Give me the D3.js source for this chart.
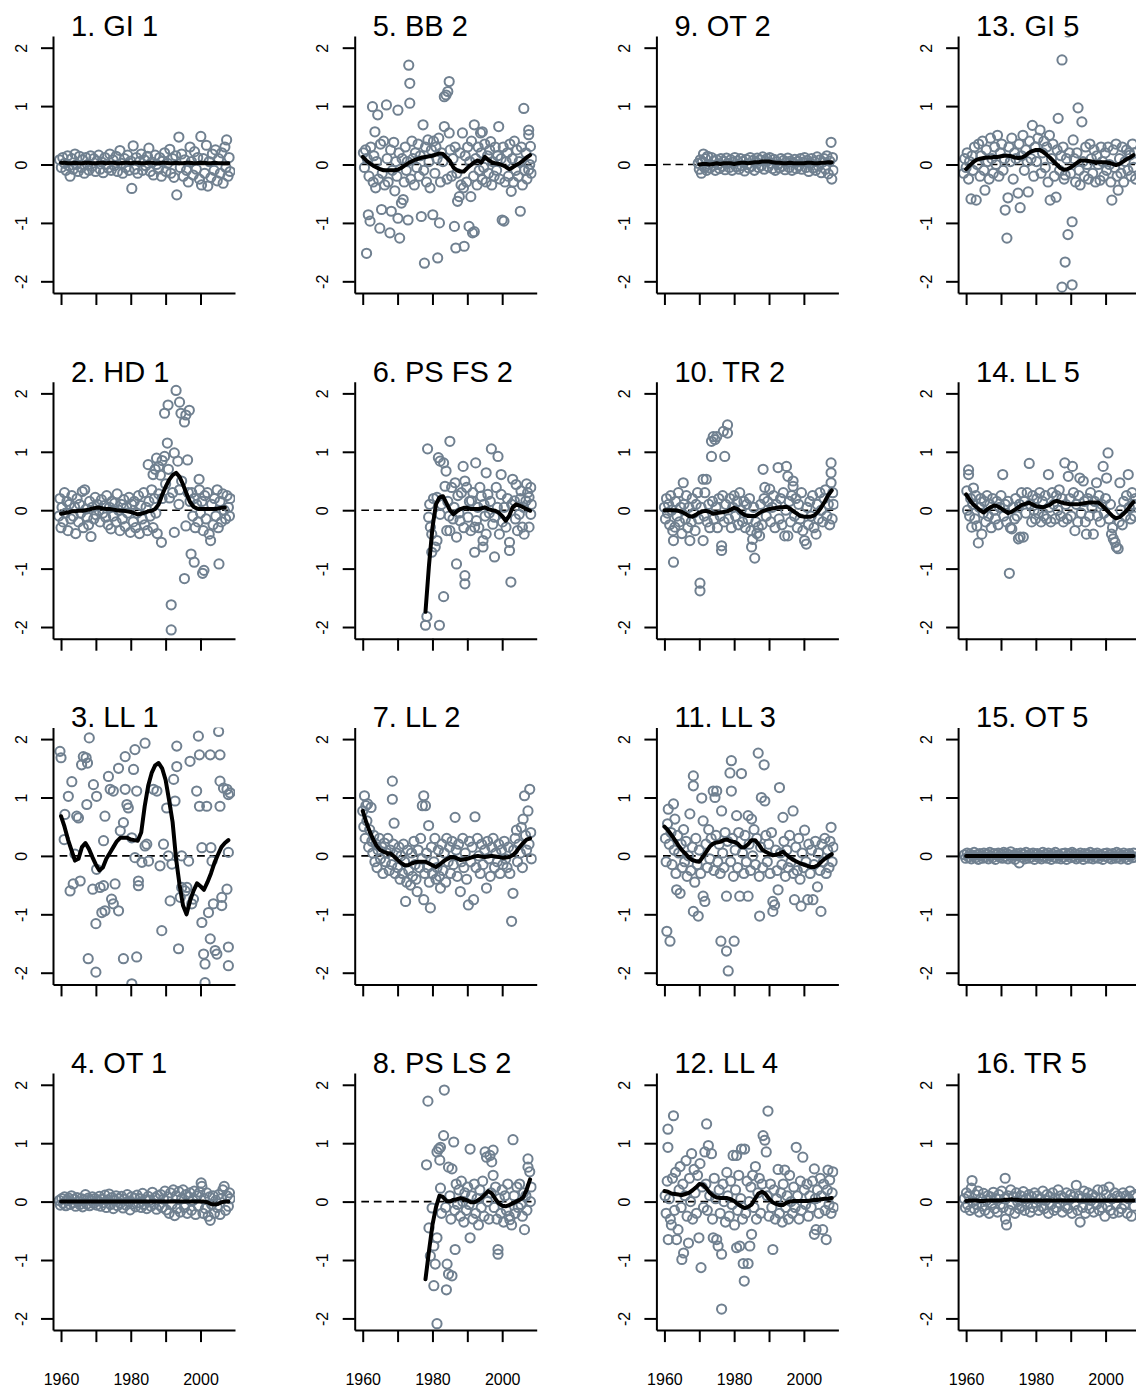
<!DOCTYPE html>
<html>
<head>
<meta charset="utf-8">
<script src="https://cdn.jsdelivr.net/npm/d3@7"></script>
<style>
  body { margin: 0; background: #fff; }
  svg { display: block; }
</style>
</head>
<body>
<svg id="chart" width="1136" height="1390"></svg>
<script>
// ---- Panel titles (panels are laid out column by column) ----
const titles = ["1. GI 1", "2. HD 1", "3. LL 1", "4. OT 1",
                "5. BB 2", "6. PS FS 2", "7. LL 2", "8. PS LS 2",
                "9. OT 2", "10. TR 2", "11. LL 3", "12. LL 4",
                "13. GI 5", "14. LL 5", "15. OT 5", "16. TR 5"];

const yTicks = [-2, -1, 0, 1, 2];
const xTicks = [1960, 1970, 1980, 1990, 2000];
const xTickLabels = [1960, 1980, 2000];

// ---- Observations: [year, anomaly] ----
const pts1 = [[1959.6,.08],[1960.1,-.05],[1960.5,.12],[1961,.02],[1961.4,-.1],[1961.9,.15],[1962.3,-.02],[1962.6,-.2],[1963.1,.1],[1963.5,-.08],[1964,.18],[1964.4,0],[1964.9,-.12],[1965.3,.14],[1965.8,-.05],[1966.2,.08],[1966.7,-.15],[1967.1,.12],[1967.6,0],[1968,-.1],[1968.5,.15],[1969,-.03],[1969.4,.1],[1969.9,-.12],[1970.3,.06],[1970.8,.16],[1971.2,-.08],[1971.7,.04],[1972.1,-.14],[1972.6,.12],[1973,0],[1973.5,-.06],[1974,.18],[1974.4,-.1],[1974.9,.08],[1975.3,-.02],[1975.8,.14],[1976.2,-.12],[1976.9,.24],[1977.3,.02],[1977.7,-.15],[1978.2,.1],[1978.6,-.05],[1979.1,.16],[1979.5,-.1],[1980,.06],[1980.3,-.41],[1980.7,.32],[1981.2,-.08],[1981.6,.12],[1982,-.15],[1982.5,.05],[1983,.18],[1983.4,-.1],[1983.9,.08],[1984.3,-.02],[1984.8,.14],[1985.2,.28],[1985.6,-.12],[1986.1,.04],[1986.5,-.18],[1987,.16],[1987.4,0],[1987.9,-.08],[1988.3,.12],[1988.8,-.2],[1989.2,.06],[1989.7,.2],[1990.1,-.12],[1990.6,.02],[1991.2,.26],[1991.5,-.15],[1992,.1],[1992.4,-.22],[1992.9,.15],[1993.2,-.52],[1993.8,.47],[1994.2,-.05],[1994.6,.18],[1995.1,-.2],[1995.5,.08],[1996,-.1],[1996.5,-.3],[1997,.3],[1997.4,.05],[1997.9,-.18],[1998.3,.22],[1998.8,-.08],[1999.2,.12],[1999.7,-.25],[2000.1,.48],[2000.3,-.35],[2000.8,.1],[2001.2,-.15],[2001.7,.33],[2002.1,-.37],[2002.5,.05],[2003,-.22],[2003.4,.18],[2003.9,-.1],[2004.3,.25],[2004.8,-.28],[2005.2,.1],[2005.7,-.15],[2006.1,.2],[2006.5,-.32],[2007,.3],[2007.3,-.05],[2007.5,.42],[2007.9,-.2],[2008.2,.12],[2008.5,-.12]];

const pts2 = [[1959.4,-.1],[1959.7,.2],[1960,-.3],[1960.3,.05],[1960.6,-.2],[1961,.3],[1961.3,-.05],[1961.7,.15],[1962,-.35],[1962.4,.1],[1962.8,-.15],[1963.1,.25],[1963.5,-.1],[1963.9,.05],[1964.2,-.4],[1964.6,.2],[1965,-.2],[1965.3,.1],[1965.7,-.05],[1966.1,.32],[1966.4,-.3],[1966.8,.35],[1967.2,.02],[1967.5,-.12],[1967.9,-.25],[1968.2,.15],[1968.6,-.45],[1969,.05],[1969.4,-.15],[1969.8,.22],[1970.1,-.08],[1970.5,.1],[1970.9,0],[1971.2,-.2],[1971.6,.18],[1972,-.05],[1972.4,.08],[1972.8,-.12],[1973.1,.25],[1973.5,-.25],[1973.9,.05],[1974.3,-.32],[1974.6,.15],[1975,-.1],[1975.4,.12],[1975.8,-.2],[1976.1,.28],[1976.5,0],[1976.9,-.35],[1977.3,.1],[1977.6,-.15],[1978,.18],[1978.4,-.28],[1978.8,.05],[1979.1,-.05],[1979.5,.22],[1979.9,-.38],[1980.3,.1],[1980.7,-.2],[1981,.15],[1981.4,-.3],[1981.8,-.05],[1982.2,.25],[1982.5,-.4],[1982.9,.08],[1983.3,-.15],[1983.7,.3],[1984,-.25],[1984.4,.05],[1984.8,-.35],[1985.2,.15],[1985.6,-.1],[1986,.35],[1986.4,-.3],[1986.8,.2],[1987.2,-.05],[1987.6,-.4],[1988,.28],[1985,.78],[1986.4,.61],[1987.4,.89],[1987,.7],[1988,.75],[1989,.85],[1988.8,-.55],[1989.7,.92],[1989.7,1.66],[1990.5,1.15],[1990.7,1.8],[1991.1,.21],[1991.6,-1.62],[1991.6,-2.05],[1992.5,.98],[1992.5,-.38],[1993,2.05],[1993.5,.84],[1994,1.85],[1994.4,1.66],[1995.4,1.51],[1995.8,1.63],[1995.8,-.27],[1995.4,-1.17],[1996.3,.86],[1996.8,1.71],[1997.3,-.75],[1998.2,-.89],[1999.6,.53],[1990,.45],[1992,.3],[1993.8,.1],[1994.6,.5],[1989,.2],[1988.5,.6],[1990.8,.7],[1996.5,.3],[1997,.15],[1994,.35],[1997.5,.3],[1997.8,-.1],[1998.2,.2],[1998.5,-.3],[1998.9,.1],[1999.3,-.2],[1999.7,.35],[2000,-.05],[2000.6,-1.08],[2001,-1.03],[2000.4,.15],[2000.8,-.35],[2001.2,.25],[2001.6,-.15],[2002,.3],[2002.5,-.41],[2002.9,-.52],[2003.2,.1],[2003.6,-.25],[2004,.2],[2004.4,-.1],[2004.8,.35],[2005.3,-.92],[2005.1,-.3],[2005.6,.15],[2006,-.2],[2006.4,.28],[2006.8,0],[2007.2,-.15],[2007.6,.25],[2008,.05],[2008.3,-.1],[2008.5,.2]];

const pts3 = [[1959.7,1.79],[1960,1.68],[1960.9,.28],[1961.1,.71],[1962.1,1.02],[1962.6,-.6],[1963.1,1.27],[1963.5,-.48],[1964,.03],[1964.5,.68],[1965,.65],[1965.5,-.43],[1965.9,1.56],[1966.4,1.7],[1967.2,1.68],[1967.4,.88],[1967.6,1.59],[1967.8,-1.76],[1968.1,2.02],[1969.1,-.57],[1969.3,1.22],[1970,-1.16],[1970,-1.99],[1970.2,1.02],[1970.2,-.23],[1971.2,-.54],[1971.7,-.97],[1972.2,-.51],[1972.2,.26],[1972.6,-.94],[1972.6,.68],[1973.6,1.36],[1974.1,1.14],[1974.5,-.74],[1975,1.11],[1975,-.82],[1975.5,-.48],[1976.5,1.5],[1976.5,-.94],[1977,.43],[1977.9,.57],[1977.9,-1.76],[1978.4,1.14],[1978.4,1.7],[1978.9,.88],[1979.3,.82],[1980.3,.31],[1980.3,-2.19],[1980.8,1.48],[1981.2,1.82],[1981.2,-.03],[1981.7,1.11],[1981.7,-1.73],[1982.2,-.43],[1982.2,-.51],[1983.2,-.11],[1984.1,.17],[1984.1,1.93],[1984.6,.2],[1985.1,-.09],[1986.5,1.14],[1987.5,1.11],[1988.4,-.17],[1988.9,-1.28],[1989.4,.2],[1990.3,.82],[1990.8,0],[1991.3,-.77],[1991.8,-.14],[1992.3,1.31],[1992.7,.94],[1993.2,1.88],[1993.2,1.53],[1993.7,-1.59],[1994.2,-.71],[1994.6,0],[1994.6,-.54],[1995.6,-.6],[1996.1,-.54],[1996.6,-.09],[1997,1.62],[1997.5,-.82],[1998,-.74],[1998.9,1.11],[1999.4,2.05],[1999.7,1.73],[1999.7,.85],[2000.4,.14],[2000.4,-1.14],[2000.9,-1.68],[2001.3,-1.85],[2001.3,-2.17],[2001.8,.85],[2002.3,-.97],[2002.8,-1.42],[2002.8,1.73],[2003,.14],[2003.3,-.09],[2003.7,-.82],[2004.2,-1.62],[2004.7,-1.68],[2005.2,2.13],[2005.6,1.73],[2005.6,.85],[2005.6,1.28],[2006.1,-.85],[2006.1,-.71],[2006.6,1.16],[2007.6,1.14],[2007.6,-.57],[2008,1.05],[2008,.06],[2008,-1.56],[2008,-1.88],[2008.5,1.08]];

const pts4 = [[1959.5,.02],[1959.8,-.06],[1960.2,.05],[1960.6,-.03],[1961,.08],[1961.4,-.07],[1961.8,.02],[1962.2,.06],[1962.6,-.05],[1963,.1],[1963.4,-.02],[1963.8,.04],[1964.2,-.08],[1964.6,.07],[1965,0],[1965.4,-.05],[1965.8,.05],[1966.2,-.09],[1966.6,.03],[1967,.12],[1967.4,-.04],[1967.8,.06],[1968.2,-.07],[1968.6,.02],[1969,.08],[1969.4,-.03],[1969.8,.05],[1970.2,-.06],[1970.6,.01],[1971,.09],[1971.4,-.08],[1971.8,.04],[1972.2,-.02],[1972.6,.11],[1973,-.1],[1973.4,.03],[1973.8,.13],[1974.2,-.05],[1974.6,.07],[1975,-.12],[1975.4,.02],[1975.8,.1],[1976.2,-.07],[1976.6,.05],[1977,-.03],[1977.4,.09],[1977.8,-.11],[1978.2,.04],[1978.6,-.06],[1979,.12],[1979.4,0],[1979.8,-.14],[1980.2,.08],[1980.6,-.04],[1981,.06],[1981.4,-.09],[1981.8,.11],[1982.2,-.02],[1982.6,.05],[1983,-.1],[1983.4,.14],[1983.8,-.05],[1984.2,.03],[1984.6,-.12],[1985,.09],[1985.4,.02],[1985.8,-.08],[1986.2,.16],[1986.6,-.04],[1987,.07],[1987.4,-.13],[1987.8,.1],[1988.2,-.06],[1988.6,.12],[1989,-.1],[1989.4,.04],[1989.8,.18],[1990.2,-.14],[1990.6,.08],[1991,-.2],[1991.4,.15],[1991.8,-.05],[1992.2,.2],[1992.6,-.24],[1993,.1],[1993.4,-.12],[1993.8,.17],[1994.2,-.18],[1994.6,.05],[1995,.2],[1995.4,-.1],[1995.8,.12],[1996.2,-.2],[1996.6,.08],[1997,.15],[1997.4,-.15],[1997.8,.02],[1998.2,.18],[1998.6,-.22],[1999,.1],[1999.4,-.08],[1999.8,.16],[2000.2,.32],[2000.4,.26],[2000.7,-.2],[2001,.05],[2001.4,-.12],[2001.8,.15],[2002.2,-.25],[2002.6,.08],[2002.8,-.32],[2003.2,-.05],[2003.6,.1],[2004,-.2],[2004.4,.02],[2004.8,-.1],[2005.2,.12],[2005.6,-.22],[2006,.05],[2006.4,.2],[2006.8,.26],[2007.2,-.15],[2007.6,.1],[2008,-.08],[2008.3,.15],[2008.5,.05]];

const pts5 = [[1960.2,.2],[1960.5,-.05],[1960.8,.25],[1961.1,-1.52],[1961.3,.1],[1961.6,-.86],[1961.8,-.2],[1962.1,-.97],[1962.3,.3],[1962.8,.99],[1963,-.3],[1963.2,.15],[1963.5,.56],[1963.7,-.4],[1964,.05],[1964.3,.85],[1964.5,-.25],[1964.9,-1.09],[1965.1,.35],[1965.4,-.77],[1965.6,-.15],[1966,.4],[1966.3,-.35],[1966.8,1.02],[1967,.1],[1967.3,-.3],[1967.8,-1.17],[1968,.25],[1968.2,-.8],[1968.5,-.1],[1968.9,.38],[1969.2,-.45],[1969.5,.05],[1969.8,-.2],[1970.1,.93],[1970.1,-.92],[1970.4,.2],[1970.6,-1.26],[1971.1,-.66],[1971.3,.1],[1971.6,-.6],[1971.9,-.3],[1972.2,.3],[1972.5,-.1],[1972.8,.05],[1973,-.95],[1973.2,1.7],[1973.5,1.39],[1973.5,1.05],[1973.8,-.25],[1974.1,.4],[1974.4,.1],[1974.8,-.35],[1975.1,.2],[1975.5,-.05],[1975.9,.35],[1976.2,-.2],[1976.5,.15],[1976.8,-.89],[1977.3,.68],[1977.5,-.1],[1977.7,-1.69],[1978,.3],[1978.3,-.3],[1978.7,.42],[1979,.05],[1979.3,-.4],[1979.7,.25],[1980.1,-.86],[1980.3,.4],[1980.7,-.15],[1981,.3],[1981.3,.1],[1981.5,-1.6],[1981.8,.45],[1982,-1],[1982.3,-.3],[1982.6,.2],[1983,.05],[1983.4,.65],[1983.4,1.16],[1983.9,1.19],[1984.2,-.25],[1984.4,1.25],[1984.8,1.42],[1984.8,.54],[1985.1,.25],[1985.5,-.2],[1985.9,.1],[1986.3,-1.06],[1986.5,.3],[1986.7,-1.43],[1987,-.15],[1987.2,-.63],[1987.7,-.55],[1987.9,.2],[1988.2,-.35],[1988.6,.54],[1988.9,-.4],[1989.1,-1.4],[1989.4,.15],[1989.8,-.3],[1990.1,.3],[1990.5,-1.06],[1990.7,.05],[1991,-.55],[1991.2,.4],[1991.5,-1.17],[1991.8,-.2],[1992,-1.15],[1992,.68],[1992.4,.1],[1992.8,-.35],[1993.1,.3],[1993.4,-.1],[1993.8,.54],[1994,.2],[1994.3,.56],[1994.3,-.26],[1994.7,-.05],[1995,.35],[1995.4,-.3],[1995.8,.15],[1996.1,-.15],[1996.4,.25],[1996.7,.39],[1997,-.35],[1997.3,.05],[1997.7,-.2],[1998,.3],[1998.4,-.1],[1998.7,.15],[1999,.65],[1999.3,-.25],[1999.7,.1],[2000,-.95],[2000.3,.3],[2000.5,-.97],[2000.8,-.3],[2001.1,.05],[2001.5,.2],[2001.8,-.2],[2002.2,.35],[2002.6,-.46],[2002.9,.1],[2003.2,-.3],[2003.5,.4],[2003.9,-.1],[2004.2,.25],[2004.6,-.2],[2004.9,.05],[2005.2,-.8],[2005.5,.3],[2005.8,-.35],[2006.2,.96],[2006.4,-.1],[2006.8,.2],[2007.1,-.25],[2007.6,.59],[2007.6,.51],[2007.6,-.09],[2007.9,0],[2008.1,.31],[2008.3,-.15],[2008.5,.1]];

const pts6 = [[1978,-1.97],[1978.4,-1.82],[1978.6,1.05],[1978.9,-.12],[1979.2,.1],[1979.4,-.29],[1979.8,-.41],[1979.8,-.72],[1980.3,.2],[1980.8,-.63],[1981.3,.22],[1981.3,-.52],[1981.7,.9],[1982,-1.97],[1982.2,.84],[1982.2,-.07],[1982.6,.1],[1983.2,.81],[1983.2,-1.48],[1983.6,.41],[1983.9,.67],[1984.1,-.35],[1984.4,.15],[1984.8,-.1],[1985,1.18],[1985,-.35],[1985.5,.39],[1985.9,-.15],[1986.2,.05],[1986.5,.47],[1986.9,-.46],[1986.9,-.92],[1987.3,.25],[1987.6,-.05],[1987.9,-.18],[1988.3,.3],[1988.8,.75],[1989,-.3],[1989.3,-1.12],[1989.3,-1.26],[1989.3,.5],[1989.8,.39],[1990.2,-.12],[1990.6,.15],[1991,-.35],[1991.2,.16],[1991.6,.3],[1992.1,-.72],[1992.1,-.29],[1992.4,.81],[1992.6,-.18],[1993,.05],[1993.3,-.3],[1993.6,.39],[1994,.24],[1994.5,-.52],[1994.5,-.63],[1994.8,.1],[1995.1,-.1],[1995.4,.64],[1995.4,-.41],[1995.9,.27],[1996.3,-.05],[1996.6,.15],[1996.9,1.05],[1997.3,-.24],[1997.8,-.12],[1997.8,-.8],[1998.3,.39],[1998.6,.05],[1998.8,.92],[1999.2,-.41],[1999.7,.61],[1999.7,.27],[2000.1,-.2],[2000.6,.05],[2001.1,-.29],[2001.5,.2],[2002.1,-.55],[2002.1,-.69],[2002.5,-1.23],[2002.7,.1],[2003,.53],[2003.5,.16],[2003.8,-.15],[2004,.44],[2004.4,-.35],[2004.9,-.07],[2005.2,.2],[2005.4,.33],[2005.8,-.29],[2006.1,.05],[2006.3,-.41],[2006.8,.16],[2007,.45],[2007.3,.3],[2007.7,.22],[2007.7,-.29],[2008.2,-.07],[2008.2,.39],[2008.4,.1]];

const pts7 = [[1960,.77],[1960.3,.5],[1960.5,1.03],[1960.7,.3],[1960.9,.86],[1961.2,.6],[1961.4,.89],[1961.7,.15],[1962,.45],[1962.4,.83],[1962.6,.25],[1962.9,.05],[1963.2,.35],[1963.5,-.1],[1963.8,.2],[1964.1,-.2],[1964.4,.1],[1964.8,.3],[1965.1,-.05],[1965.5,.15],[1965.8,-.3],[1966.2,.22],[1966.5,-.1],[1966.9,.05],[1967.2,.3],[1967.6,-.25],[1967.9,.1],[1968.3,-.15],[1968.5,1.28],[1968.5,.97],[1968.8,.2],[1969,.56],[1969.3,-.3],[1969.7,.05],[1970,-.2],[1970.4,.15],[1970.7,-.4],[1971,0],[1971.4,-.3],[1971.7,.2],[1972,-.1],[1972.3,-.78],[1972.6,-.45],[1972.9,.1],[1973.2,-.25],[1973.7,-.5],[1974,.05],[1974.3,-.35],[1974.7,.25],[1975,-.15],[1975.3,-.4],[1975.6,-.61],[1975.9,.1],[1976.3,-.2],[1976.6,.3],[1977,-.05],[1977.1,.86],[1977.5,1.03],[1977.5,-.75],[1977.8,-.3],[1978,.86],[1978.3,.05],[1978.6,-.2],[1978.9,.52],[1979.1,-.45],[1979.4,-.89],[1979.7,.15],[1980,-.3],[1980.4,-.1],[1980.7,.3],[1981,-.4],[1981.3,-.2],[1981.7,.1],[1982,-.35],[1982.3,-.55],[1982.7,.2],[1983,-.25],[1983.4,.05],[1983.8,-.45],[1984.1,.3],[1984.5,-.1],[1984.9,.15],[1985.2,-.3],[1985.6,.25],[1986,-.15],[1986.5,.66],[1986.8,.1],[1987.1,-.35],[1987.5,.2],[1988,-.61],[1988.3,-.1],[1988.7,.3],[1989,-.2],[1989.4,.05],[1989.8,-.4],[1990.3,-.84],[1990.6,.25],[1991,-.1],[1991.4,.15],[1991.8,-.75],[1992.2,.67],[1992.5,-.2],[1992.9,.3],[1993.3,0],[1993.7,-.3],[1994.1,.2],[1994.5,-.15],[1995,.1],[1995.5,-.55],[1995.8,.25],[1996.2,-.05],[1996.6,-.35],[1997,.15],[1997.4,.3],[1997.8,-.2],[1998.2,.05],[1998.6,-.1],[1999,.2],[1999.4,-.3],[1999.8,.1],[2000.2,-.15],[2000.6,.25],[2001,-.05],[2001.4,-.2],[2001.8,.15],[2002.2,-.3],[2002.7,-1.12],[2003.1,-.64],[2003.3,.1],[2003.7,.3],[2004.1,.44],[2004.4,-.1],[2004.8,.2],[2005.2,.05],[2005.5,.49],[2005.8,-.2],[2006,.63],[2006.4,1.03],[2006.7,.35],[2007,.1],[2007.4,.77],[2007.7,.2],[2007.9,1.14],[2008.2,.4],[2008.4,-.05]];

const pts8 = [[1978.3,.63],[1978.7,1.72],[1979,-.45],[1979.4,-.93],[1979.9,-.11],[1980.4,-.76],[1980.4,-1.44],[1980.8,-1.07],[1981.3,.85],[1981.3,-.62],[1981.3,-2.09],[1981.8,.9],[1982.1,.71],[1982.3,.93],[1982.3,.23],[1982.6,-.2],[1983.2,1.13],[1983.4,1.91],[1983.8,-.1],[1984,-1.51],[1984.2,-1.07],[1984.6,.59],[1984.6,-1.24],[1985,.1],[1985.3,-.3],[1985.6,.56],[1985.6,-1.27],[1986.1,1.02],[1986.4,-.15],[1986.5,-.82],[1986.8,.3],[1987.2,-.05],[1987.6,.2],[1988,-.25],[1988.3,.35],[1988.7,0],[1989,-.35],[1989.3,.15],[1989.7,-.15],[1990.1,.25],[1990.5,-.05],[1990.8,.9],[1990.8,-.62],[1991.2,.1],[1991.6,-.3],[1992,.3],[1992.4,-.2],[1992.8,.05],[1993.2,-.4],[1993.6,.2],[1994,-.1],[1994.4,.35],[1994.8,-.25],[1995.1,.85],[1995.5,.76],[1995.8,0],[1996.2,-.3],[1996.5,.79],[1996.8,.15],[1997,.68],[1997.4,.88],[1997.4,.45],[1997.7,-.1],[1998.1,.25],[1998.5,-.3],[1998.8,-.82],[1998.8,-.9],[1999.2,.05],[1999.6,-.2],[2000,.2],[2000.4,-.35],[2000.8,.1],[2001.2,-.15],[2001.6,.3],[2002,-.25],[2002.2,-.31],[2002.7,-.4],[2003.1,1.06],[2003.4,.1],[2003.8,-.2],[2004.2,.25],[2004.6,-.1],[2005,.3],[2005.4,-.05],[2005.8,-.25],[2006.1,.15],[2006.4,-.48],[2006.8,.1],[2007.1,-.15],[2007.4,.73],[2007.4,.59],[2007.9,.51],[2008.1,0],[2008.3,.25]];

const pts9 = [[1969.7,.02],[1970,-.08],[1970.3,.08],[1970.6,-.15],[1970.9,.05],[1971.2,.18],[1971.5,-.05],[1971.8,.1],[1972.1,-.1],[1972.4,.14],[1972.8,0],[1973.1,-.06],[1973.5,.12],[1973.9,-.02],[1974.2,.06],[1974.6,-.1],[1975,.08],[1975.4,0],[1975.8,-.07],[1976.2,.1],[1976.6,-.03],[1977,.05],[1977.4,-.09],[1977.8,.11],[1978.2,.02],[1978.6,-.05],[1979,.08],[1979.4,-.1],[1979.8,.04],[1980.2,.12],[1980.6,-.04],[1981,.06],[1981.4,-.08],[1981.8,.1],[1982.2,-.02],[1982.6,.05],[1983,-.11],[1983.4,.09],[1983.8,0],[1984.2,-.06],[1984.6,.12],[1985,-.03],[1985.4,.07],[1985.8,-.1],[1986.2,.04],[1986.6,.11],[1987,-.05],[1987.4,.08],[1987.8,-.02],[1988.2,.13],[1988.6,-.08],[1989,.06],[1989.4,.1],[1989.8,-.04],[1990.2,.12],[1990.6,.02],[1991,-.07],[1991.4,.09],[1991.8,-.1],[1992.2,.05],[1992.6,0],[1993,-.06],[1993.4,.1],[1993.8,-.03],[1994.2,.07],[1994.6,-.09],[1995,.04],[1995.4,.11],[1995.8,-.05],[1996.2,.06],[1996.6,-.1],[1997,.03],[1997.4,.09],[1997.8,-.07],[1998.2,.05],[1998.6,-.02],[1999,.1],[1999.4,-.08],[1999.8,.04],[2000.2,.12],[2000.6,-.05],[2001,.07],[2001.4,-.12],[2001.8,.02],[2002.2,.1],[2002.6,-.06],[2003,.05],[2003.4,-.1],[2003.8,.13],[2004.2,-.03],[2004.6,.08],[2005,-.14],[2005.4,.04],[2005.8,.1],[2006.2,-.08],[2006.6,.15],[2007,-.16],[2007.4,.06],[2007.8,.38],[2008,-.25],[2008.2,.12],[2008.4,-.1]];

const pts10 = [[1960,.05],[1960.3,-.15],[1960.6,.2],[1960.9,-.05],[1961.2,.1],[1961.5,-.25],[1961.8,.25],[1962.1,0],[1962.4,-.35],[1962.6,-.52],[1962.6,-.89],[1963,-.29],[1963.2,.15],[1963.6,-.1],[1964,.3],[1964.3,-.2],[1964.7,.05],[1965,-.4],[1965.4,.47],[1965.6,.1],[1966,-.15],[1966.3,.25],[1966.7,-.3],[1967,.05],[1967.3,-.52],[1967.7,-.2],[1968,.2],[1968.4,-.05],[1968.8,-.35],[1969.1,.1],[1969.5,.3],[1969.8,-.15],[1970.2,-1.25],[1970.2,-1.38],[1970.5,.05],[1971.1,.53],[1971.1,-.52],[1971.4,-.1],[1971.6,.3],[1972,.53],[1972.3,-.2],[1972.7,.1],[1973,-.3],[1973.5,1.18],[1973.5,.92],[1973.8,.15],[1974,1.26],[1974.2,-.15],[1974.5,1.21],[1974.8,.05],[1975,1.26],[1975.2,-.3],[1975.6,.2],[1976,-.1],[1976.4,-.69],[1976.4,-.61],[1976.7,.25],[1976.9,1.35],[1977.1,-.2],[1977.3,.92],[1977.6,.1],[1978.1,1.46],[1978.1,1.32],[1978.4,-.15],[1978.8,.2],[1979.2,-.3],[1979.6,.05],[1980,.25],[1980.4,-.1],[1980.8,.15],[1981.2,-.25],[1981.6,.3],[1982,0],[1982.4,-.2],[1982.8,.15],[1983.2,-.3],[1983.6,.1],[1984,-.15],[1984.4,.2],[1984.8,-.35],[1985,-.63],[1985.3,-.5],[1985.6,.05],[1985.9,-.82],[1986.2,-.2],[1986.5,-.4],[1986.9,-.29],[1987.3,-.44],[1987.6,.1],[1988,-.25],[1988.3,.7],[1988.6,.2],[1988.8,.39],[1989.2,-.1],[1989.6,.15],[1990.2,.36],[1990.5,-.2],[1990.9,.05],[1991.3,.25],[1991.7,-.3],[1992.1,.1],[1992.6,.73],[1992.9,-.15],[1993.3,.2],[1993.7,-.25],[1994.1,.3],[1994.5,-.44],[1994.8,0],[1995,.75],[1995.4,.58],[1995.4,-.44],[1995.8,.15],[1996.2,-.2],[1996.5,.25],[1996.9,.5],[1996.9,.41],[1997.3,-.1],[1997.7,.2],[1998.1,-.3],[1998.5,.1],[1998.9,-.15],[1999.3,.3],[1999.7,-.35],[2000.2,-.52],[2000.7,-.58],[2000.9,.05],[2001.3,-.25],[2001.7,.15],[2002.1,-.1],[2002.5,.25],[2002.9,-.3],[2003.5,-.41],[2003.8,.1],[2004.2,-.15],[2004.6,.3],[2005,0],[2005.4,-.2],[2005.8,.2],[2006.2,.35],[2006.6,-.1],[2007,.1],[2007.4,-.25],[2007.8,.81],[2007.8,.64],[2007.8,.47],[2008.1,-.15],[2008.3,.3],[2008.5,.1]];

const pts11 = [[1960.3,.3],[1960.5,-.1],[1960.7,-1.29],[1960.9,.55],[1961.1,.8],[1961.4,.2],[1961.6,-1.46],[1961.9,.4],[1962.2,-.15],[1962.6,.89],[1962.8,.1],[1963,.63],[1963.3,-.3],[1963.5,-.58],[1963.8,.35],[1964.1,.05],[1964.5,-.64],[1964.8,.2],[1965.1,-.2],[1965.5,.45],[1965.8,-.1],[1966.2,.25],[1966.5,-.35],[1966.9,0],[1967.3,.72],[1967.6,-.25],[1968,.15],[1968.3,1.37],[1968.3,1.2],[1968.3,-.95],[1968.7,-.45],[1969,.3],[1969.4,-.15],[1969.7,-1.03],[1970,.1],[1970.4,-.3],[1970.7,.99],[1971.1,.6],[1971.1,-.69],[1971.6,-.78],[1971.9,.2],[1972.3,-.2],[1972.7,.45],[1973,-.05],[1973.4,.3],[1974,1.11],[1974.2,-.25],[1974.5,1],[1974.8,.35],[1975,1.11],[1975.3,-.1],[1975.7,.2],[1976,-.3],[1976.2,-1.46],[1976.4,.77],[1976.7,.05],[1977.1,-.2],[1977.4,.4],[1977.8,-.69],[1977.8,-1.63],[1978.1,.25],[1978.3,-1.97],[1978.8,1.42],[1979,-.1],[1979.2,1.63],[1979.2,1.11],[1979.5,.3],[1979.8,-.35],[1980,-1.46],[1980.3,.1],[1980.7,.69],[1981,-.2],[1981.3,.4],[1981.6,-.69],[1982.1,1.41],[1982.4,.05],[1982.8,-.3],[1983.1,.35],[1983.5,-.1],[1984,.69],[1984,-.69],[1984.3,.2],[1984.7,-.25],[1985,.63],[1985.3,0],[1985.7,.45],[1986.1,-.15],[1986.5,.3],[1986.9,1.76],[1987.2,-.35],[1987.3,-1.03],[1987.6,.15],[1987.8,1],[1988.2,-.2],[1988.6,1.56],[1988.8,.94],[1989.1,.35],[1989.5,-.1],[1989.9,.2],[1990.3,-.3],[1990.7,.4],[1991.1,-.95],[1991.1,-.78],[1991.6,-.84],[1991.9,.1],[1992.3,-.25],[1992.6,-.58],[1993,1.17],[1993.3,.05],[1993.7,-.15],[1994,.66],[1994.3,.25],[1994.7,-.35],[1995.1,.1],[1995.5,-.2],[1995.9,.35],[1996.3,-.1],[1996.9,.77],[1997,-.3],[1997.3,-.75],[1997.7,.15],[1998.1,-.25],[1998.5,.3],[1998.9,-.4],[1999.2,-.86],[1999.5,.05],[1999.9,-.2],[2000.2,.44],[2000.6,-.1],[2001.1,-.75],[2001.4,.2],[2001.8,-.3],[2002.2,.1],[2002.6,-.75],[2002.9,-.15],[2003.3,.25],[2003.9,-.53],[2004.2,.05],[2004.6,-.25],[2004.9,-.95],[2005.2,.2],[2005.6,-.1],[2006,.3],[2006.4,-.3],[2006.8,.1],[2007.2,-.2],[2007.5,.25],[2007.8,.49],[2008.1,-.1],[2008.4,.15]];

const pts12 = [[1960.2,.1],[1960.5,-.2],[1960.8,.35],[1961,1.24],[1961,.93],[1961.1,-.65],[1961.4,.05],[1961.7,-.3],[1962,-.4],[1962.3,.4],[1962.6,1.47],[1962.9,-.15],[1963.2,.5],[1963.5,-.65],[1963.9,-.48],[1964.2,.2],[1964.5,.6],[1964.8,-.1],[1965,-.99],[1965.3,.3],[1965.5,-.88],[1965.9,.1],[1966.2,.7],[1966.5,-.25],[1966.9,-.71],[1967.2,.4],[1967.5,0],[1967.8,.82],[1968.1,-.3],[1968.5,.55],[1968.8,.15],[1969.2,-.2],[1969.5,.45],[1969.9,-.62],[1970.2,.65],[1970.5,-1.13],[1970.8,.25],[1971.2,-.1],[1971.6,.85],[1971.9,.3],[1972.1,1.33],[1972.3,-.15],[1972.6,.96],[1973,.1],[1973.5,.82],[1973.8,-.3],[1974,-.62],[1974.3,.4],[1974.7,.05],[1975,-.65],[1975.4,-.76],[1975.7,.2],[1976,-.2],[1976.4,-.9],[1976.4,-1.84],[1976.8,.3],[1977.1,0],[1977.5,-.35],[1977.9,.5],[1978.2,.1],[1978.6,-.25],[1979,.35],[1979.4,-.05],[1979.7,.79],[1980.1,-.4],[1980.4,.2],[1980.7,.79],[1980.7,-.79],[1981,-.15],[1981.3,.45],[1981.6,-.76],[1981.9,.05],[1982.1,.9],[1982.4,-.3],[1982.6,-1.06],[1982.9,-1.36],[1983,.9],[1983.3,-.2],[1983.7,.35],[1984,-1.06],[1984.3,0],[1984.5,-.76],[1984.8,.25],[1985,-.56],[1985.3,.45],[1985.7,-.1],[1986.1,.6],[1986.4,-.3],[1986.8,.15],[1987.2,.4],[1987.6,-.2],[1988,.3],[1988.3,1.13],[1988.8,1.05],[1989.2,.85],[1989.5,.1],[1989.7,1.55],[1990,-.25],[1990.4,.3],[1990.8,-.1],[1991.1,-.82],[1991.4,.2],[1991.8,-.3],[1992.2,.05],[1992.6,.55],[1993,-.2],[1993.4,.15],[1993.8,-.35],[1994.1,.3],[1994.5,.54],[1994.8,-.1],[1995.2,.1],[1995.6,-.3],[1995.9,.45],[1996.3,0],[1996.7,-.2],[1997.1,.25],[1997.5,-.1],[1997.8,.93],[1998.2,.1],[1998.6,-.3],[1999,.35],[1999.3,-.15],[1999.7,.76],[2000.1,.2],[2000.5,-.05],[2000.9,.3],[2001.3,-.25],[2001.7,.1],[2002.1,-.1],[2002.5,.35],[2003,.56],[2003,-.56],[2003.3,.05],[2003.5,-.48],[2003.9,.2],[2004.3,-.2],[2004.7,.4],[2005,.1],[2005.4,-.48],[2005.7,.3],[2006.1,-.15],[2006.4,-.65],[2006.7,.2],[2006.9,.54],[2007.2,-.05],[2007.4,.37],[2007.8,-.2],[2008.1,.15],[2008.3,.51],[2008.5,-.1]];

const pts13 = [[1959.3,-.15],[1959.6,.1],[1960,-.05],[1960.3,.2],[1960.7,-.25],[1961,.05],[1961.4,-.59],[1961.7,.15],[1962,-.1],[1962.4,.3],[1962.9,-.61],[1963.2,0],[1963.6,.35],[1964,-.2],[1964.3,.15],[1964.7,.4],[1965.1,-.1],[1965.4,-.44],[1965.8,.25],[1966.2,.05],[1966.6,-.25],[1967,.45],[1967.4,.1],[1967.8,-.15],[1968.2,.3],[1968.6,0],[1969,.5],[1969.4,-.2],[1969.8,.2],[1970.2,.35],[1970.6,-.1],[1971,.1],[1971.2,-.78],[1971.7,-1.26],[1972,-.57],[1972.3,.3],[1972.7,.05],[1973.1,.45],[1973.5,-.25],[1973.9,.2],[1974.3,.1],[1974.9,-.49],[1975.2,.35],[1975.5,-.74],[1975.9,.15],[1976.3,.5],[1976.7,-.1],[1977.1,.25],[1977.5,.05],[1977.8,-.47],[1978.2,.4],[1978.6,.1],[1979,.67],[1979.4,-.2],[1979.8,.3],[1980.2,.05],[1980.6,.45],[1981.2,.59],[1981.5,-.15],[1981.9,.2],[1982.3,.4],[1982.7,-.05],[1983.1,.3],[1983.5,-.3],[1983.9,.5],[1984.1,-.61],[1984.5,.1],[1984.9,.35],[1985.3,-.2],[1985.8,-.56],[1986.1,.25],[1986.4,.79],[1986.8,-.1],[1987.2,.15],[1987.5,1.79],[1987.5,-2.1],[1987.8,.3],[1988.1,-.25],[1988.4,-1.67],[1988.4,-.18],[1988.8,.1],[1989.2,-1.2],[1989.2,2.27],[1989.6,.2],[1990,-.15],[1990.4,-.98],[1990.4,-2.06],[1990.7,.42],[1991,.1],[1991.4,-.3],[1991.8,.2],[1992.1,.97],[1992.4,-.1],[1992.7,-.35],[1993.2,.73],[1993.5,.05],[1993.9,-.2],[1994.3,.3],[1994.7,0],[1995.1,-.25],[1995.5,.35],[1995.9,.1],[1996.3,-.15],[1996.7,.25],[1997.1,-.3],[1997.5,.15],[1997.9,0],[1998.4,-.27],[1998.7,.3],[1999.1,.05],[1999.5,-.2],[1999.9,.2],[2000.3,-.1],[2000.7,.3],[2001.1,0],[2001.5,-.3],[2001.8,-.61],[2002.2,.25],[2002.6,-.05],[2003,.35],[2003.3,-.2],[2003.6,-.44],[2004,.1],[2004.4,-.15],[2004.8,.3],[2005.2,-.3],[2005.6,.05],[2006,.25],[2006.4,-.1],[2006.8,.2],[2007,.16],[2007.3,-.2],[2007.7,.35],[2008,-.05],[2008.3,.2],[2008.6,-.25]];

const pts14 = [[1960.2,.33],[1960.4,0],[1960.7,.69],[1960.7,.61],[1961,-.1],[1961.3,.2],[1961.6,-.29],[1961.9,.1],[1962.1,.38],[1962.5,-.15],[1962.8,.25],[1963.1,-.27],[1963.5,-.56],[1963.8,.05],[1964.2,.2],[1964.5,-.41],[1964.9,-.05],[1965.2,.15],[1965.6,-.2],[1966,.25],[1966.4,-.1],[1966.8,.1],[1967.2,-.3],[1967.6,.2],[1968,0],[1968.4,-.15],[1968.8,.15],[1969.2,-.25],[1969.6,.05],[1970,.25],[1970.5,.61],[1970.8,-.1],[1971.2,.1],[1971.6,-.2],[1972,.15],[1972.4,-1.08],[1972.7,-.3],[1973.1,-.32],[1973.5,.05],[1973.9,-.15],[1974.2,.2],[1974.6,-.1],[1975,-.49],[1975.3,.1],[1975.5,-.46],[1975.9,.3],[1976.4,-.46],[1976.7,.15],[1977.1,-.05],[1977.5,.3],[1978.1,.8],[1978.4,.1],[1978.8,-.2],[1979.1,.25],[1979.5,0],[1979.9,-.15],[1980.3,.2],[1980.7,-.05],[1981.1,.3],[1981.5,-.2],[1981.9,.15],[1982.3,-.1],[1982.7,.25],[1983.1,-.15],[1983.6,.61],[1983.9,.05],[1984.3,-.2],[1984.7,.3],[1985.1,.1],[1985.5,-.15],[1985.9,.25],[1986.3,0],[1986.7,.35],[1987.1,-.1],[1987.5,.2],[1987.9,-.2],[1988.3,.81],[1988.6,.1],[1989,-.15],[1989.3,.58],[1989.7,.2],[1990.1,-.1],[1990.5,.75],[1990.8,.3],[1991.2,-.35],[1991.6,.1],[1992,-.2],[1992.3,.25],[1992.6,.55],[1993,-.05],[1993.6,.5],[1993.9,.15],[1994.2,-.2],[1994.5,-.41],[1994.9,.2],[1995.3,-.1],[1995.7,.3],[1996.1,.05],[1996.5,-.41],[1996.9,.15],[1997.4,.47],[1997.7,-.1],[1998.1,.25],[1998.5,-.2],[1998.9,.1],[1999.3,.75],[1999.6,-.05],[2000,.2],[2000.3,.55],[2000.7,.98],[2001,-.15],[2001.4,.1],[2001.7,-.41],[2002,-.3],[2002.2,-.49],[2002.7,-.55],[2003.1,-.63],[2003.6,-.66],[2003.9,-.2],[2004.1,.47],[2004.4,0],[2004.8,-.25],[2005.2,.15],[2005.6,-.1],[2006,.25],[2006.5,.61],[2006.8,.05],[2007.2,-.15],[2007.6,.3],[2008,.1],[2008.3,-.1],[2008.6,.2]];

const pts15 = [[1959.5,.02],[1959.9,-.04],[1960.3,.05],[1960.7,-.02],[1961.1,.03],[1961.5,-.05],[1961.9,.01],[1962.3,.06],[1962.7,-.03],[1963.1,.02],[1963.5,-.06],[1963.9,.04],[1964.3,0],[1964.7,-.04],[1965.1,.05],[1965.5,-.02],[1966,.03],[1966.4,-.05],[1966.8,.06],[1967.2,0],[1967.6,-.03],[1968,.04],[1968.4,-.06],[1968.8,.02],[1969.2,.05],[1969.6,-.02],[1970,.03],[1970.4,-.04],[1970.8,.06],[1971.2,-.01],[1971.6,.04],[1972,-.05],[1972.4,.02],[1972.8,.07],[1973.2,-.03],[1973.6,.01],[1974,-.06],[1974.4,.04],[1974.8,0],[1975.2,-.12],[1975.6,.05],[1976,-.02],[1976.4,.03],[1976.8,-.05],[1977.2,.06],[1977.6,0],[1978,-.04],[1978.4,.03],[1978.8,-.02],[1979.2,.05],[1979.6,-.06],[1980,.02],[1980.4,.04],[1980.8,-.03],[1981.2,.01],[1981.6,-.05],[1982,.06],[1982.4,-.01],[1982.8,.03],[1983.2,-.04],[1983.6,.05],[1984,0],[1984.4,-.06],[1984.8,.03],[1985.2,-.02],[1985.6,.06],[1986,-.04],[1986.4,.02],[1986.8,0],[1987.2,-.05],[1987.6,.04],[1988,-.02],[1988.4,.05],[1988.8,-.06],[1989.2,.01],[1989.6,.04],[1990,-.03],[1990.4,.06],[1990.8,-.01],[1991.2,.03],[1991.6,-.05],[1992,.02],[1992.4,-.03],[1992.8,.05],[1993.2,0],[1993.6,-.06],[1994,.04],[1994.4,-.02],[1994.8,.03],[1995.2,-.04],[1995.6,.06],[1996,.01],[1996.4,-.05],[1996.8,.03],[1997.2,-.02],[1997.6,.05],[1998,-.04],[1998.4,.02],[1998.8,0],[1999.2,-.06],[1999.6,.04],[2000,-.01],[2000.4,.05],[2000.8,-.03],[2001.2,.02],[2001.6,-.05],[2002,.04],[2002.4,0],[2002.8,-.04],[2003.2,.06],[2003.6,-.02],[2004,.03],[2004.4,-.05],[2004.8,.01],[2005.2,.05],[2005.6,-.03],[2006,.02],[2006.4,-.06],[2006.8,.04],[2007.2,0],[2007.6,-.03],[2008,.05],[2008.4,-.02]];

const pts16 = [[1959.5,.05],[1959.8,-.1],[1960.1,.15],[1960.4,-.05],[1960.8,.1],[1961.1,-.15],[1961.5,.23],[1961.7,.36],[1962,0],[1962.3,-.12],[1962.7,.12],[1963,-.05],[1963.4,.18],[1963.8,-.18],[1964.2,.05],[1964.6,-.08],[1965,.14],[1965.4,-.15],[1965.8,.02],[1966.2,.1],[1966.6,-.2],[1967,.08],[1967.4,-.03],[1967.8,.16],[1968.2,-.12],[1968.6,.05],[1969,-.18],[1969.4,.12],[1969.8,-.05],[1970.2,.18],[1970.6,-.1],[1971,.05],[1971.2,.4],[1971.3,-.3],[1971.6,-.4],[1972,.1],[1972.4,-.15],[1972.8,.2],[1973.2,-.05],[1973.6,.08],[1974,-.2],[1974.4,.15],[1974.8,0],[1975.2,-.12],[1975.6,.1],[1976,-.08],[1976.4,.17],[1976.8,-.15],[1977.2,.05],[1977.6,-.05],[1978,.12],[1978.4,-.18],[1978.8,.08],[1979.2,-.1],[1979.6,.15],[1980,-.02],[1980.4,.1],[1980.8,-.15],[1981.2,.05],[1981.6,-.08],[1982,.18],[1982.4,-.12],[1982.8,.02],[1983.2,.12],[1983.6,-.2],[1984,.08],[1984.4,-.05],[1984.8,.15],[1985.2,-.15],[1985.6,.05],[1986,-.1],[1986.4,.2],[1986.8,-.02],[1987.2,.1],[1987.6,-.18],[1988,.06],[1988.4,-.08],[1988.8,.15],[1989.2,-.12],[1989.6,.03],[1990,.12],[1990.4,-.2],[1990.8,.08],[1991.2,-.05],[1991.6,.28],[1992,-.15],[1992.4,.1],[1992.7,-.35],[1993,.05],[1993.4,-.1],[1993.8,.18],[1994.2,-.2],[1994.6,.06],[1995,.15],[1995.4,-.12],[1995.8,.02],[1996.2,.12],[1996.6,-.18],[1997,.08],[1997.4,-.05],[1997.8,.2],[1998.2,-.15],[1998.6,.05],[1999,-.1],[1999.3,.2],[1999.8,-.25],[2000.2,.12],[2000.6,-.08],[2001,.25],[2001.4,-.15],[2001.8,.05],[2002.2,-.2],[2002.6,.15],[2003,-.05],[2003.4,.1],[2003.8,-.18],[2004.2,.08],[2004.6,-.12],[2005,.15],[2005.4,-.05],[2005.8,.1],[2006.2,-.2],[2006.6,.05],[2007,.18],[2007.4,-.25],[2007.8,.1],[2008.2,-.08],[2008.5,.12]];

// ---- Smoothed trend: one value per year, starting at smoothStart ----
const smooth1 = [.03,.03,.02,.02,.03,.02,.02,.03,.03,.02,.02,.03,.03,.02,.03,.03,.02,.02,.03,.03,.02,.03,.03,.02,.02,.03,.03,.02,.02,.03,.03,.02,.02,.03,.02,.02,.03,.03,.02,.02,.03,.03,.02,.02,.03,.02,.02,.02,.02];
const smooth2 = [-.06,-.05,-.04,-.02,-.02,-.01,-.01,0,.01,.03,.04,.045,.03,.02,.02,.01,0,-.01,-.01,-.02,-.03,-.05,-.07,-.06,-.04,-.02,-.01,.02,.1,.26,.4,.52,.6,.64,.57,.44,.28,.14,.06,.03,.02,.02,.02,.02,.02,.03,.04,.045];
const smooth3 = [.68,.5,.28,.1,-.08,-.05,.15,.22,.12,-.02,-.15,-.25,-.2,-.05,.05,.15,.25,.31,.31,.31,.28,.27,.26,.4,.85,1.2,1.42,1.55,1.59,1.5,1.3,.95,.58,-.05,-.5,-.85,-1,-.77,-.6,-.47,-.52,-.58,-.45,-.3,-.12,.02,.15,.22,.27];
const smooth4 = [0,0,0,0,0,0,0,0,0,0,0,0,0,0,0,0,0,0,0,0,0,0,0,0,0,0,0,0,0,0,0,0,0,0,0,0,0,0,0,0,0,0,-.01,-.04,-.05,-.04,-.01,0,0];
const smooth5 = [.13,.07,.02,-.02,-.05,-.08,-.1,-.1,-.1,-.1,-.09,-.06,-.02,.02,.05,.08,.1,.12,.13,.14,.15,.17,.19,.18,.12,.06,-.05,-.1,-.12,-.12,-.06,-.01,.04,.07,.03,.13,.08,.04,.02,.01,-.01,-.04,-.08,-.05,-.01,.02,.07,.12,.16];
const smooth6 = [-1.74,-.95,-.3,.1,.22,.24,.12,0,-.07,-.02,.02,.04,.04,.02,.02,.02,.03,.05,.02,0,-.01,-.04,-.1,-.18,-.1,.05,.1,.08,.05,.02,-.01];
const smooth7 = [.77,.58,.42,.28,.17,.1,.07,.05,.04,-.01,-.07,-.12,-.16,-.16,-.13,-.11,-.1,-.1,-.1,-.13,-.16,-.19,-.15,-.1,-.06,-.03,-.02,-.04,-.07,-.06,-.05,-.03,-.01,0,-.01,-.02,-.01,0,-.01,-.02,-.03,-.03,-.02,.01,.07,.15,.22,.28,.3];
const smooth8 = [-1.33,-.85,-.4,-.1,.1,.08,.01,0,.03,.04,.06,.04,.02,-.01,-.01,.02,.06,.12,.18,.14,.05,-.03,-.07,-.08,-.06,-.03,0,.03,.07,.2,.38];
const smooth9 = [0,.01,.01,0,.01,.02,.01,.02,.02,.02,.01,.02,.03,.03,.02,.03,.04,.04,.05,.05,.05,.04,.03,.03,.02,.02,.03,.02,.02,.02,.02,.03,.03,.02,.02,.03,.03,.04,.04];
const smooth10 = [0,0,0,0,-.01,-.03,-.06,-.1,-.11,-.08,-.04,-.02,-.01,-.03,-.06,-.05,-.04,-.03,-.02,.01,.04,.02,-.04,-.08,-.1,-.1,-.1,-.06,-.02,0,.02,.03,.04,.05,.05,.06,.03,-.02,-.06,-.1,-.11,-.11,-.11,-.09,-.03,.05,.15,.26,.34];
const smooth11 = [.5,.44,.36,.27,.18,.1,.04,-.03,-.07,-.09,-.1,-.02,.07,.16,.21,.23,.24,.27,.28,.25,.24,.21,.15,.15,.2,.27,.27,.2,.11,.07,.04,.01,.02,.04,.07,.02,-.03,-.07,-.1,-.13,-.15,-.17,-.19,-.19,-.16,-.1,-.05,-.01,.03];
const smooth12 = [.18,.17,.14,.13,.12,.11,.13,.15,.19,.24,.3,.29,.23,.15,.1,.07,.06,.06,.06,.04,.01,-.04,-.08,-.11,-.09,-.05,.05,.14,.17,.13,.05,-.01,-.04,-.06,-.06,-.02,0,.01,.01,.01,.01,.01,.02,.03,.03,.04,.05,.05,.06];
const smooth13 = [-.08,-.02,.04,.08,.1,.11,.12,.12,.13,.13,.14,.15,.15,.14,.12,.11,.12,.15,.2,.23,.25,.25,.22,.17,.12,.06,0,-.06,-.09,-.08,-.05,-.01,.04,.07,.07,.06,.05,.04,.04,.04,.04,.03,.01,-.01,.01,.05,.09,.12,.16];
const smooth14 = [.27,.18,.1,.05,0,-.04,.01,.05,.08,.07,.03,-.01,-.05,-.03,.01,.05,.09,.11,.13,.1,.07,.06,.05,.07,.09,.14,.16,.14,.12,.11,.1,.1,.1,.11,.12,.13,.13,.13,.13,.08,.02,-.04,-.1,-.14,-.12,-.07,-.01,.07,.14];
const smooth15 = [0,0,0,0,0,0,0,0,0,0,0,0,0,0,0,0,0,0,0,0,0,0,0,0,0,0,0,0,0,0,0,0,0,0,0,0,0,0,0,0,0,0,0,0,0,0,0,0,0];
const smooth16 = [.01,.02,.02,.02,.01,.01,.02,.02,.02,.02,.02,.03,.03,.04,.03,.03,.02,.02,.02,.02,.02,.02,.02,.02,.02,.02,.02,.02,.02,.02,.02,.02,.02,.02,.02,.02,.02,.02,.02,.02,.02,.02,.02,.02,.02,.02,.02,.02,.02];

const points  = [pts1, pts2, pts3, pts4, pts5, pts6, pts7, pts8, pts9, pts10, pts11, pts12, pts13, pts14, pts15, pts16];
const smooths = [smooth1, smooth2, smooth3, smooth4, smooth5, smooth6, smooth7, smooth8, smooth9, smooth10, smooth11, smooth12, smooth13, smooth14, smooth15, smooth16];
const smoothStart = [1960, 1960, 1960, 1960, 1960, 1978, 1960, 1978, 1970, 1960, 1960, 1960, 1960, 1960, 1960, 1960];

// ---- Layout ----
const FONT = "'Liberation Sans', Arial, Helvetica, sans-serif";
const W = 182, H = 257;           // plotting region of one panel
const COL_STEP = 301.7, ROW_STEP = 345.7;
const LEFT0 = 53, TOP0 = 36;
const POINT_COLOR = "#708090";

const x = d3.scaleLinear().domain([1957.7, 2009.9]).range([0, W]);
const y = d3.scaleLinear().domain([-2.2, 2.2]).range([H, 0]);

const svg = d3.select("#chart");
svg.append("rect").attr("width", 1136).attr("height", 1390).attr("fill", "#fff");

const trendLine = d3.line().x(d => x(d[0])).y(d => y(d[1]));

titles.forEach((title, i) => {
  const col = Math.floor(i / 4), row = i % 4;
  const g = svg.append("g")
    .attr("transform", `translate(${LEFT0 + COL_STEP * col},${TOP0 + ROW_STEP * row})`);

  g.append("text")
    .attr("x", 18).attr("y", 0)
    .attr("font-family", FONT).attr("font-size", 29)
    .attr("fill", "#000")
    .text(title);

  const clipId = "clip" + i;
  g.append("clipPath").attr("id", clipId)
    .append("rect").attr("width", W).attr("height", H);

  const plot = g.append("g").attr("clip-path", `url(#${clipId})`);

  // zero reference line
  plot.append("line")
    .attr("x1", x(1959.6)).attr("x2", x(2008.5))
    .attr("y1", y(0)).attr("y2", y(0))
    .attr("stroke", "#000").attr("stroke-width", 1.6)
    .attr("stroke-dasharray", "7.7,4.8");

  plot.append("g").selectAll("circle")
    .data(points[i])
    .join("circle")
    .attr("cx", d => x(d[0]))
    .attr("cy", d => y(d[1]))
    .attr("r", 4.6)
    .attr("fill", "none")
    .attr("stroke", POINT_COLOR)
    .attr("stroke-width", 2);

  const trend = smooths[i].map((v, k) => [smoothStart[i] + k, v]);
  plot.append("path")
    .datum(trend)
    .attr("d", trendLine)
    .attr("fill", "none")
    .attr("stroke", "#000")
    .attr("stroke-width", 4)
    .attr("stroke-linejoin", "round")
    .attr("stroke-linecap", "round");

  // y axis with rotated labels
  const yAxis = g.append("g")
    .call(d3.axisLeft(y).tickValues(yTicks).tickSize(12).tickSizeOuter(0)
      .tickFormat(d => String(d)));
  yAxis.selectAll("path, line").attr("stroke", "#000").attr("stroke-width", 2);
  yAxis.selectAll("text")
    .attr("transform", "rotate(-90)")
    .attr("x", 0).attr("y", -32).attr("dy", null)
    .attr("dominant-baseline", "central")
    .attr("text-anchor", "middle")
    .attr("font-family", FONT).attr("font-size", 16)
    .attr("fill", "#000");

  // x axis; year labels only under the bottom row
  const xAxis = g.append("g")
    .attr("transform", `translate(0,${H})`)
    .call(d3.axisBottom(x).tickValues(xTicks).tickSize(12).tickSizeOuter(0)
      .tickFormat(d => (row === 3 && xTickLabels.includes(d)) ? String(d) : ""));
  xAxis.selectAll("path, line").attr("stroke", "#000").attr("stroke-width", 2);
  xAxis.selectAll("text")
    .attr("y", 44)
    .attr("font-family", FONT).attr("font-size", 16)
    .attr("fill", "#000");
});
</script>
</body>
</html>
